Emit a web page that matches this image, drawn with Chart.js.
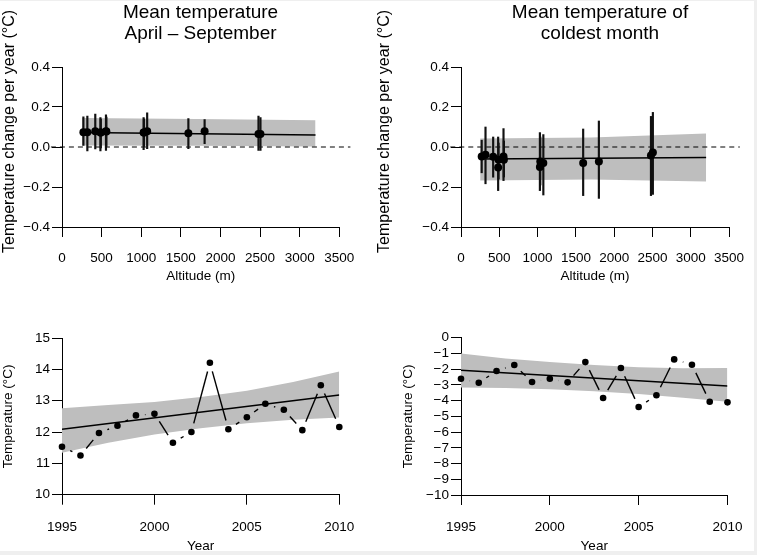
<!DOCTYPE html>
<html>
<head>
<meta charset="utf-8">
<script src="https://cdn.jsdelivr.net/npm/chart.js@4.4.1/dist/chart.umd.min.js"></script>
<style>
  body { margin: 0; background: #efefef; }
  #page { position: absolute; left: 0; top: 1px; width: 754px; height: 550px; background: #fff; }
  canvas { position: absolute; }
  .ttl { position: absolute; top: 0; width: 300px; text-align: center; color: #000;
         font: 19px "Liberation Sans", Arial, sans-serif; line-height: 21px; }
</style>
</head>
<body>
<div id="page">
  <canvas id="c1" width="380" height="289" style="left:0;top:0"></canvas>
  <canvas id="c2" width="387" height="289" style="left:370px;top:0"></canvas>
  <canvas id="c3" width="380" height="235" style="left:0;top:319px"></canvas>
  <canvas id="c4" width="357" height="235" style="left:400px;top:319px"></canvas>
  <div class="ttl" style="left:50.5px">Mean temperature<br>April – September</div>
  <div class="ttl" style="left:450px">Mean temperature of<br>coldest month</div>
</div>
<script>
/* Data */
// station altitudes (m), same stations in both upper panels
const altitude = [270, 320, 420, 485, 490, 555, 560, 1030, 1035, 1075, 1595, 1800, 2480, 2505];

// April - September: trend per station (degC per year) and its interval
const summerTrend = [0.074, 0.074, 0.079, 0.072, 0.072, 0.079, 0.077, 0.072, 0.072, 0.079, 0.069, 0.079, 0.065, 0.065];
const summerLow   = [0.008, -0.02, -0.01, -0.02, -0.005, -0.017, 0.0, -0.013, 0.0, -0.008, -0.008, 0.017, -0.017, -0.017];
const summerHigh  = [0.151, 0.154, 0.164, 0.147, 0.14, 0.161, 0.15, 0.147, 0.14, 0.171, 0.142, 0.137, 0.154, 0.147];

// coldest month: trend per station and its interval
const winterTrend = [-0.047, -0.039, -0.049, -0.102, -0.064, -0.047, -0.064, -0.1, -0.072, -0.08, -0.08, -0.073, -0.042, -0.027];
const winterLow   = [-0.129, -0.184, -0.151, -0.218, -0.16, -0.168, -0.15, -0.218, -0.19, -0.24, -0.243, -0.257, -0.243, -0.237];
const winterHigh  = [0.034, 0.1, 0.05, 0.05, 0.02, 0.092, 0.03, 0.072, 0.05, 0.062, 0.09, 0.13, 0.153, 0.173];

// regression over altitude and its band
const fitAltitude = [250, 3200];
const summerFit = [0.072, 0.06];
const winterFit = [-0.06, -0.053];
const bandAltitude = [250, 1700, 3200];
const summerBandHigh = [0.145, 0.14, 0.134];
const summerBandLow  = [0.008, 0.006, 0.002];
const winterBandHigh = [0.042, 0.047, 0.067];
const winterBandLow  = [-0.167, -0.163, -0.172];
const zeroAltitude = [-140, 3640];

// yearly series
const years = [1995, 1996, 1997, 1998, 1999, 2000, 2001, 2002, 2003, 2004, 2005, 2006, 2007, 2008, 2009, 2010];
const summerTemp = [11.53, 11.25, 11.97, 12.2, 12.53, 12.58, 11.66, 12.0, 14.21, 12.09, 12.47, 12.9, 12.71, 12.06, 13.49, 12.16];
const winterTemp = [-2.61, -2.86, -2.12, -1.74, -2.82, -2.61, -2.84, -1.55, -3.83, -1.93, -4.41, -3.66, -1.38, -1.72, -4.07, -4.11];

const fitYears = [1995, 2010];
const summerYearFit = [12.09, 13.18];
const winterYearFit = [-2.07, -3.07];
const bandYears = [1995, 1997.5, 2000, 2002.5, 2005, 2007.5, 2010];
const summerYearHigh = [12.76, 12.86, 12.96, 13.12, 13.32, 13.6, 13.93];
const summerYearLow  = [11.34, 11.66, 11.92, 12.12, 12.28, 12.39, 12.46];
const winterYearHigh = [-1.0, -1.32, -1.55, -1.74, -1.88, -1.95, -1.93];
const winterYearLow  = [-3.16, -3.2, -3.28, -3.4, -3.58, -3.82, -4.07];

/* Defaults */
Chart.defaults.font.family = '"Liberation Sans", Arial, Helvetica, sans-serif';
Chart.defaults.font.size = 13.5;
Chart.defaults.color = '#000';
Chart.defaults.animation = false;
Chart.defaults.plugins.legend.display = false;
Chart.defaults.plugins.tooltip.enabled = false;

const grey = 'rgb(190,190,190)';
const none = 'rgba(0,0,0,0)';
const xy = (xs, ys) => xs.map((x, i) => ({x: x, y: ys[i]}));
const minus = s => s.replace('-', '\u2212');

// lines between consecutive points, cut short near each point (like R type="b")
const gapLines = {
  id: 'gapLines',
  afterDatasetsDraw(chart, args, opts) {
    if (opts.dataset === undefined) return;
    const pts = chart.getDatasetMeta(opts.dataset).data;
    const ctx = chart.ctx;
    ctx.save();
    ctx.strokeStyle = '#000';
    ctx.lineWidth = 1.4;
    for (let i = 1; i < pts.length; i++) {
      const a = pts[i - 1], b = pts[i];
      const dx = b.x - a.x, dy = b.y - a.y, d = Math.hypot(dx, dy);
      if (d <= 2 * opts.gap) continue;
      const ux = dx / d, uy = dy / d;
      ctx.beginPath();
      ctx.moveTo(a.x + ux * opts.gap, a.y + uy * opts.gap);
      ctx.lineTo(b.x - ux * opts.gap, b.y - uy * opts.gap);
      ctx.stroke();
    }
    ctx.restore();
  }
};

function yAxis(min, max, step, width, title, titleSize, titlePad, fmt) {
  return {
    min: min, max: max,
    ticks: {stepSize: step, padding: 2, autoSkip: false, callback: fmt},
    grid: {drawOnChartArea: false, tickLength: 10, color: '#000'},
    border: {color: '#000'},
    title: {display: true, text: title, font: {size: titleSize}, padding: {top: titlePad, bottom: 0}},
    afterFit: s => { s.width = width; }
  };
}

function xAxis(min, max, step, height, title, tickPad, titlePad) {
  return {
    type: 'linear', min: min, max: max, offset: false,
    ticks: {stepSize: step, padding: tickPad, includeBounds: false, autoSkip: false, maxRotation: 0,
            callback: v => String(v)},
    grid: {drawOnChartArea: false, tickLength: 10, color: '#000', offset: false},
    border: {color: '#000'},
    title: {display: true, text: title, font: {size: 13.5}, padding: {top: 0, bottom: titlePad}},
    afterFit: s => { s.height = height; }
  };
}

// the label sits a little above the panel centre, as in the original
const trendTitle = '       Temperature change per year (°C)';

function trendChart(id, trend, low, high, fit, bandHigh, bandLow, pad, yWidth, yTitlePad) {
  new Chart(document.getElementById(id), {
    type: 'scatter',
    data: {
      datasets: [
        {data: xy(altitude, trend), pointRadius: 4, pointBackgroundColor: '#000', pointBorderWidth: 0, clip: false},
        {type: 'bar', data: xy(altitude, altitude.map((a, i) => [low[i], high[i]])),
         barThickness: 1.5, backgroundColor: '#111', borderWidth: 0},
        {type: 'line', data: xy(fitAltitude, fit), borderColor: '#000', borderWidth: 1.5, pointRadius: 0},
        {type: 'line', data: xy(zeroAltitude, [0, 0]), borderColor: '#000', borderWidth: 1,
         borderDash: [5, 4], pointRadius: 0, clip: false},
        {type: 'line', data: xy(bandAltitude, bandHigh), borderColor: none, borderWidth: 0, pointRadius: 0, fill: false},
        {type: 'line', data: xy(bandAltitude, bandLow), borderColor: none, borderWidth: 0, pointRadius: 0,
         fill: '-1', backgroundColor: grey}
      ]
    },
    options: {
      responsive: false,
      layout: {padding: pad},
      scales: {
        x: xAxis(0, 3500, 500, 63, 'Altitude (m)', 12.9, 5.2),
        y: yAxis(-0.4, 0.4, 0.2, yWidth, trendTitle, 16, yTitlePad,
                 v => Math.abs(v) < 1e-9 ? '0.0' : minus(v.toFixed(1)))
      }
    }
  });
}

function yearChart(id, temps, fit, bandHigh, bandLow, yMin, yMax, pad, yWidth, xHeight) {
  new Chart(document.getElementById(id), {
    type: 'scatter',
    data: {
      datasets: [
        {data: xy(years, temps), pointRadius: 3.3, pointBackgroundColor: '#000', pointBorderWidth: 0, clip: false},
        {type: 'line', data: xy(fitYears, fit), borderColor: '#000', borderWidth: 1.5, pointRadius: 0},
        {type: 'line', data: xy(bandYears, bandHigh), borderColor: none, borderWidth: 0, pointRadius: 0, fill: false},
        {type: 'line', data: xy(bandYears, bandLow), borderColor: none, borderWidth: 0, pointRadius: 0,
         fill: '-1', backgroundColor: grey}
      ]
    },
    plugins: [gapLines],
    options: {
      responsive: false,
      layout: {padding: pad},
      plugins: {gapLines: {dataset: 0, gap: 9}},
      scales: {
        x: xAxis(1995, 2010, 5, xHeight, 'Year', 14.5, 0.4),
        y: yAxis(yMin, yMax, 1, yWidth, 'Temperature (°C)', 13.5, 0.2, v => minus(String(v)))
      }
    }
  });
}

trendChart('c1', summerTrend, summerLow, summerHigh, summerFit, summerBandHigh, summerBandLow,
           {top: 66, right: 40.7, left: 0, bottom: 0}, 62, 0);
trendChart('c2', winterTrend, winterLow, winterHigh, winterFit, winterBandHigh, winterBandLow,
           {top: 66, right: 18, left: 0, bottom: 0}, 91, 5.4);
yearChart('c3', summerTemp, summerYearFit, summerYearHigh, summerYearLow, 10, 15,
          {top: 18, right: 40.7, left: 0, bottom: 0}, 62, 60.3);
yearChart('c4', winterTemp, winterYearFit, winterYearHigh, winterYearLow, -10, 0,
          {top: 17.7, right: 18, left: 0, bottom: 0}, 61, 60);
</script>
</body>
</html>
